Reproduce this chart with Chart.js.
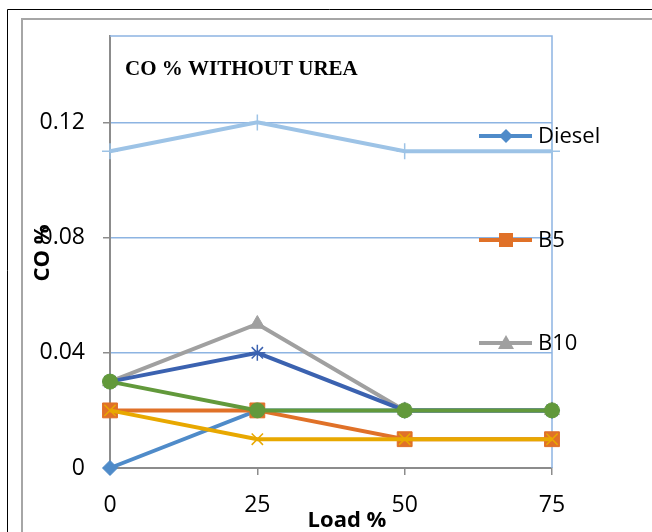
<!DOCTYPE html>
<html>
<head>
<meta charset="utf-8">
<script src="https://cdn.jsdelivr.net/npm/chart.js@4.4.1/dist/chart.umd.min.js"></script>
<style>
  body { margin: 0; background: #fff; }
  #wrap { width: 652px; height: 532px; position: relative; }
</style>
</head>
<body>
<div id="wrap"><canvas id="coChart"></canvas></div>
<script>
// Data
const loads = ['0', '25', '50', '75'];
const yTicks = [0, 0.04, 0.08, 0.12];
const seriesNames = ['Diesel', 'B5', 'B10', 'B15', 'B20', 'B25', 'B30'];
const diesel = [0, 0.02, 0.02, 0.02];
const b5 = [0.02, 0.02, 0.01, 0.01];
const b10 = [0.03, 0.05, 0.02, 0.02];
const b15 = [0.02, 0.01, 0.01, 0.01];
const b20 = [0.03, 0.04, 0.02, 0.02];
const b25 = [0.03, 0.02, 0.02, 0.02];
const b30 = [0.11, 0.12, 0.11, 0.11];

const seriesValues = [diesel, b5, b10, b15, b20, b25, b30];
const seriesColors = ['#4F8BC9', '#E07128', '#A0A0A0', '#E8A800', '#3B62B0', '#62993B', '#9DC3E6'];
const seriesMarkers = ['rectRot', 'rect', 'triangle', 'crossRot', 'star', 'circle', 'cross'];
const markerSizes = [7.5, 10.5, 8.5, 8, 8, 7.5, 8];

const gridBlue = '#8DB4E2';
const axisGray = '#8C8C8C';

// Frame, plot border, titles and the (cropped) legend
const decorations = {
    id: 'decorations',
    beforeDraw(chart) {
        const ctx = chart.ctx;
        ctx.save();
        ctx.strokeStyle = '#000';
        ctx.lineWidth = 1;
        ctx.beginPath();
        ctx.moveTo(7.5, 532);
        ctx.lineTo(7.5, 9.5);
        ctx.lineTo(652, 9.5);
        ctx.stroke();
        ctx.strokeStyle = '#A6A6A6';
        ctx.lineWidth = 2;
        ctx.beginPath();
        ctx.moveTo(22, 532);
        ctx.lineTo(22, 19);
        ctx.lineTo(652, 19);
        ctx.stroke();
        ctx.restore();
    },
    beforeDatasetsDraw(chart) {
        const ctx = chart.ctx;
        const a = chart.chartArea;
        ctx.save();
        ctx.strokeStyle = gridBlue;
        ctx.lineWidth = 1.5;
        ctx.beginPath();
        ctx.moveTo(a.left, a.top);
        ctx.lineTo(a.right, a.top);
        ctx.lineTo(a.right, a.bottom);
        ctx.stroke();

        ctx.fillStyle = '#000';
        ctx.font = 'bold 21px "Liberation Serif"';
        ctx.textBaseline = 'alphabetic';
        ctx.fillText('CO % WITHOUT UREA', 125, 75);

        ctx.font = 'bold 22px "Open Sans"';
        ctx.textAlign = 'center';
        ctx.fillText('Load %', 347, 527);
        ctx.translate(43, 253);
        ctx.rotate(-Math.PI / 2);
        ctx.textBaseline = 'middle';
        ctx.fillText('CO %', 0, 0);
        ctx.restore();
    },
    afterDraw(chart) {
        const ctx = chart.ctx;
        const legendY = [136, 240, 343];
        ctx.save();
        legendY.forEach((y, i) => {
            const c = seriesColors[i];
            ctx.strokeStyle = c;
            ctx.fillStyle = c;
            ctx.lineWidth = 4;
            ctx.beginPath();
            ctx.moveTo(479, y);
            ctx.lineTo(532, y);
            ctx.stroke();
            ctx.beginPath();
            if (seriesMarkers[i] === 'rectRot') {
                ctx.moveTo(506, y - 7); ctx.lineTo(513, y); ctx.lineTo(506, y + 7); ctx.lineTo(499, y);
            } else if (seriesMarkers[i] === 'rect') {
                ctx.rect(499, y - 7, 14, 14);
            } else {
                ctx.moveTo(506, y - 8); ctx.lineTo(514, y + 6); ctx.lineTo(498, y + 6);
            }
            ctx.closePath();
            ctx.fill();
            ctx.fillStyle = '#000';
            ctx.font = '22px "Open Sans"';
            ctx.textBaseline = 'middle';
            ctx.fillText(seriesNames[i], 538, y + 1);
        });
        ctx.restore();
    }
};

const datasets = seriesValues.map((vals, i) => ({
    label: seriesNames[i],
    data: vals,
    order: seriesValues.length - i,   // later series drawn on top, as in the original
    borderColor: seriesColors[i],
    backgroundColor: seriesColors[i],
    borderWidth: 4,
    pointStyle: seriesMarkers[i],
    pointRadius: markerSizes[i],
    pointBorderWidth: (seriesMarkers[i] === 'crossRot' || seriesMarkers[i] === 'cross' || seriesMarkers[i] === 'star') ? 1.5 : 1,
    pointBackgroundColor: seriesColors[i],
    pointBorderColor: seriesColors[i],
    tension: 0,
    clip: false
}));

new Chart(document.getElementById('coChart'), {
    type: 'line',
    data: { labels: loads, datasets: datasets },
    options: {
        responsive: true,
        maintainAspectRatio: false,
        animation: false,
        layout: { padding: { left: 0, top: 36, right: 100, bottom: 0 } },
        plugins: {
            legend: { display: false },
            tooltip: { enabled: false }
        },
        scales: {
            x: {
                offset: false,
                afterFit: s => { s.height = 64; },
                grid: { drawOnChartArea: false, tickLength: 7, tickColor: axisGray, lineWidth: 1.5 },
                border: { color: axisGray, width: 2 },
                ticks: { color: '#000', padding: 17, font: { family: 'Open Sans', size: 23 } }
            },
            y: {
                min: 0,
                max: 0.15,
                afterFit: s => { s.width = 110; },
                afterBuildTicks: s => { s.ticks = yTicks.map(v => ({ value: v })); },
                grid: { color: gridBlue, lineWidth: 1.5, tickLength: 7, tickColor: axisGray },
                border: { color: axisGray, width: 2 },
                ticks: { color: '#000', padding: 18, font: { family: 'Open Sans', size: 23 },
                    callback: v => v === 0 ? '0' : String(v) }
            }
        }
    },
    plugins: [decorations]
});
</script>
</body>
</html>
